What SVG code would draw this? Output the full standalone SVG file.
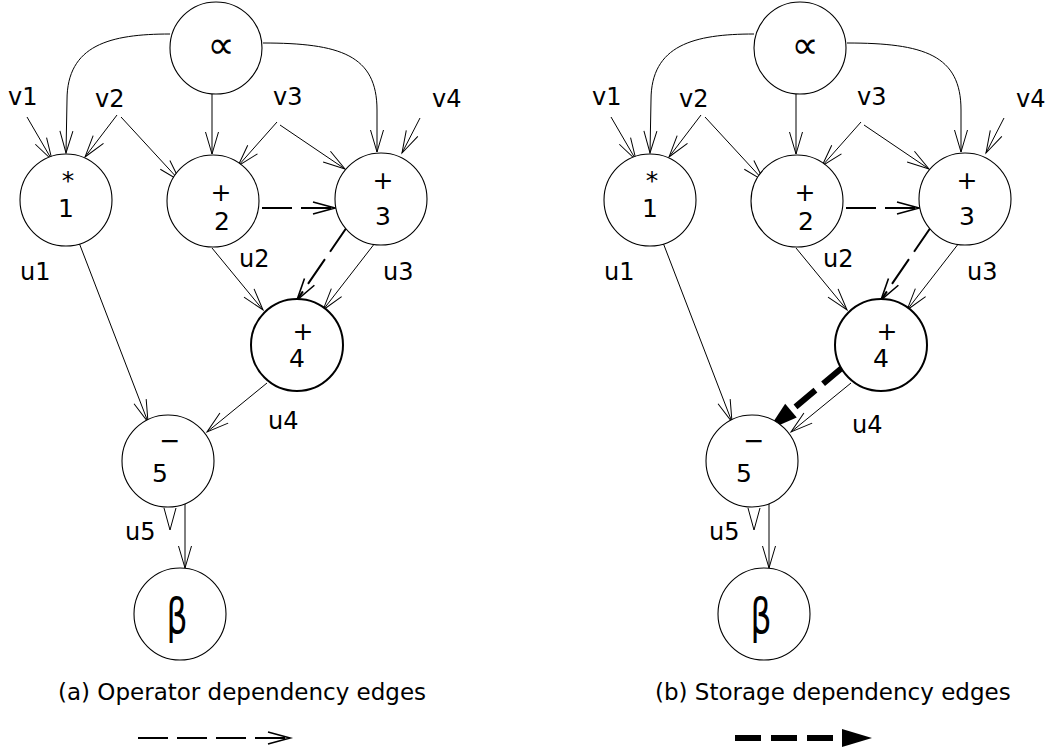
<svg xmlns="http://www.w3.org/2000/svg" width="1051" height="752" viewBox="0 0 1051 752">
<style>
.nd{fill:#fff;stroke:#000;stroke-width:1.1}
.nd4{fill:#fff;stroke:#000;stroke-width:2}
.e{fill:none;stroke:#000;stroke-width:1}
.ed{fill:none;stroke:#000;stroke-width:2;stroke-dasharray:30 9}
.es{fill:none;stroke:#000;stroke-width:6;stroke-dasharray:26 10}
.lb{font-family:"DejaVu Sans",sans-serif;font-size:24px;fill:#000}
.nn{font-family:"DejaVu Sans",sans-serif;font-size:25px;fill:#000;text-anchor:middle}
.sym{font-family:"DejaVu Sans",sans-serif;fill:#000;text-anchor:middle}
.cap{font-family:"DejaVu Sans",sans-serif;font-size:23px;fill:#000}
</style>
<defs>
<marker id="va" markerUnits="userSpaceOnUse" orient="auto" overflow="visible" markerWidth="1" markerHeight="1" refX="0" refY="0">
<path d="M-22,-6.5 L0,0 L-22,6.5" fill="none" stroke="#000" stroke-width="1" stroke-dasharray="none"/>
</marker>
<marker id="vd" markerUnits="userSpaceOnUse" orient="auto" overflow="visible" markerWidth="1" markerHeight="1" refX="0" refY="0">
<path d="M-22,-6 L0,0 L-22,6" fill="none" stroke="#000" stroke-width="1.6" stroke-dasharray="none"/>
</marker>
<marker id="vs" markerUnits="userSpaceOnUse" orient="auto" overflow="visible" markerWidth="1" markerHeight="1" refX="0" refY="0">
<path d="M-10,-9 L20,0 L-10,9 Z" fill="#000" stroke="none"/>
</marker>
</defs>

<g id="graph-a">
<g id="connectors-a">
<path class="e" d="M170,34 C110,34 67,45 67,100 L66,153" marker-end="url(#va)"/>
<path class="e" d="M212,94 L212,154" marker-end="url(#va)"/>
<path class="e" d="M263,43 C340,43 377,55 377,110 L377,152" marker-end="url(#va)"/>
<path class="e" d="M27,117 L52,160" marker-end="url(#va)"/>
<path class="e" d="M117,115 L85,157" marker-end="url(#va)"/>
<path class="e" d="M121,117 L180,181" marker-end="url(#va)"/>
<path class="e" d="M277,122 L238,166" marker-end="url(#va)"/>
<path class="e" d="M280,125 L345,169" marker-end="url(#va)"/>
<path class="e" d="M420,118 L402,153" marker-end="url(#va)"/>
<path class="ed" d="M262,208 L335,208" marker-end="url(#vd)"/>
<path class="ed" d="M347,227 L297,300" marker-end="url(#vd)"/>
<path class="e" d="M375,243 L323,310" marker-end="url(#va)"/>
<path class="e" d="M212,248 L263,310" marker-end="url(#va)"/>
<path class="e" d="M78,240 L148,422" marker-end="url(#va)"/>
<path class="e" d="M267,383 L207,432" marker-end="url(#va)"/>
<path class="e" d="M164,508 L170,530 L176,508"/>
<path class="e" d="M185,503 L185,568" marker-end="url(#va)"/>
</g>
<g id="a-alpha"><circle class="nd" cx="216" cy="48" r="46"/><text class="sym" x="221" y="58" font-size="38">∝</text></g>
<g id="a-n1"><circle class="nd" cx="66" cy="200" r="46"/><text class="nn" x="68" y="189" font-size="20">*</text><text class="nn" x="66" y="217">1</text></g>
<g id="a-n2"><circle class="nd" cx="213" cy="201" r="46"/><text class="nn" x="221" y="201">+</text><text class="nn" x="222" y="230">2</text></g>
<g id="a-n3"><circle class="nd" cx="381" cy="199" r="46"/><text class="nn" x="383" y="189">+</text><text class="nn" x="383" y="225">3</text></g>
<g id="a-n4"><circle class="nd4" cx="297" cy="345" r="46"/><text class="nn" x="303" y="340">+</text><text class="nn" x="297" y="367">4</text></g>
<g id="a-n5"><circle class="nd" cx="168" cy="461" r="46"/><text class="nn" x="170" y="449">−</text><text class="nn" x="160" y="482">5</text></g>
<g id="a-beta"><circle class="nd" cx="180" cy="614" r="46"/><text class="sym" font-size="33" transform="translate(177,633) scale(1,1.45)">β</text></g>
<g id="labels-a">
<text class="lb" x="8" y="105">v1</text>
<text class="lb" x="95" y="107">v2</text>
<text class="lb" x="273" y="105">v3</text>
<text class="lb" x="432" y="107">v4</text>
<text class="lb" x="20" y="280">u1</text>
<text class="lb" x="239" y="267">u2</text>
<text class="lb" x="383" y="280">u3</text>
<text class="lb" x="268" y="429">u4</text>
<text class="lb" x="125" y="540">u5</text>
</g>
<text class="cap" x="58" y="700">(a) Operator dependency edges</text>
<path class="ed" d="M138,738 L290,738" marker-end="url(#vd)"/>
</g>

<g id="graph-b" transform="translate(584,0)">
<g id="connectors-b">
<path class="e" d="M170,34 C110,34 67,45 67,100 L66,153" marker-end="url(#va)"/>
<path class="e" d="M212,94 L212,154" marker-end="url(#va)"/>
<path class="e" d="M263,43 C340,43 377,55 377,110 L377,152" marker-end="url(#va)"/>
<path class="e" d="M27,117 L52,160" marker-end="url(#va)"/>
<path class="e" d="M117,115 L85,157" marker-end="url(#va)"/>
<path class="e" d="M121,117 L180,181" marker-end="url(#va)"/>
<path class="e" d="M277,122 L238,166" marker-end="url(#va)"/>
<path class="e" d="M280,125 L345,169" marker-end="url(#va)"/>
<path class="e" d="M420,118 L402,153" marker-end="url(#va)"/>
<path class="ed" d="M262,208 L335,208" marker-end="url(#vd)"/>
<path class="ed" d="M347,227 L297,300" marker-end="url(#vd)"/>
<path class="e" d="M375,243 L323,310" marker-end="url(#va)"/>
<path class="e" d="M212,248 L263,310" marker-end="url(#va)"/>
<path class="e" d="M78,240 L148,422" marker-end="url(#va)"/>
<path class="e" d="M267,383 L207,432" marker-end="url(#va)"/>
<path class="es" d="M259,367 L199.3,417.1" marker-end="url(#vs)"/>
<path class="e" d="M164,508 L170,530 L176,508"/>
<path class="e" d="M185,503 L185,568" marker-end="url(#va)"/>
</g>
<g id="b-alpha"><circle class="nd" cx="216" cy="48" r="46"/><text class="sym" x="221" y="58" font-size="38">∝</text></g>
<g id="b-n1"><circle class="nd" cx="66" cy="200" r="46"/><text class="nn" x="68" y="189" font-size="20">*</text><text class="nn" x="66" y="217">1</text></g>
<g id="b-n2"><circle class="nd" cx="213" cy="201" r="46"/><text class="nn" x="221" y="201">+</text><text class="nn" x="222" y="230">2</text></g>
<g id="b-n3"><circle class="nd" cx="381" cy="199" r="46"/><text class="nn" x="383" y="189">+</text><text class="nn" x="383" y="225">3</text></g>
<g id="b-n4"><circle class="nd4" cx="297" cy="345" r="46"/><text class="nn" x="303" y="340">+</text><text class="nn" x="297" y="367">4</text></g>
<g id="b-n5"><circle class="nd" cx="168" cy="461" r="46"/><text class="nn" x="170" y="449">−</text><text class="nn" x="160" y="482">5</text></g>
<g id="b-beta"><circle class="nd" cx="180" cy="614" r="46"/><text class="sym" font-size="33" transform="translate(177,633) scale(1,1.45)">β</text></g>
<g id="labels-b">
<text class="lb" x="8" y="105">v1</text>
<text class="lb" x="95" y="107">v2</text>
<text class="lb" x="273" y="105">v3</text>
<text class="lb" x="432" y="107">v4</text>
<text class="lb" x="20" y="280">u1</text>
<text class="lb" x="239" y="267">u2</text>
<text class="lb" x="383" y="280">u3</text>
<text class="lb" x="268" y="433">u4</text>
<text class="lb" x="125" y="540">u5</text>
</g>
<text class="cap" x="71" y="700">(b) Storage dependency edges</text>
<path class="es" d="M151,738 L268,738" stroke-width="7" stroke-dasharray="28 9" marker-end="url(#vs)"/>
</g>
</svg>
